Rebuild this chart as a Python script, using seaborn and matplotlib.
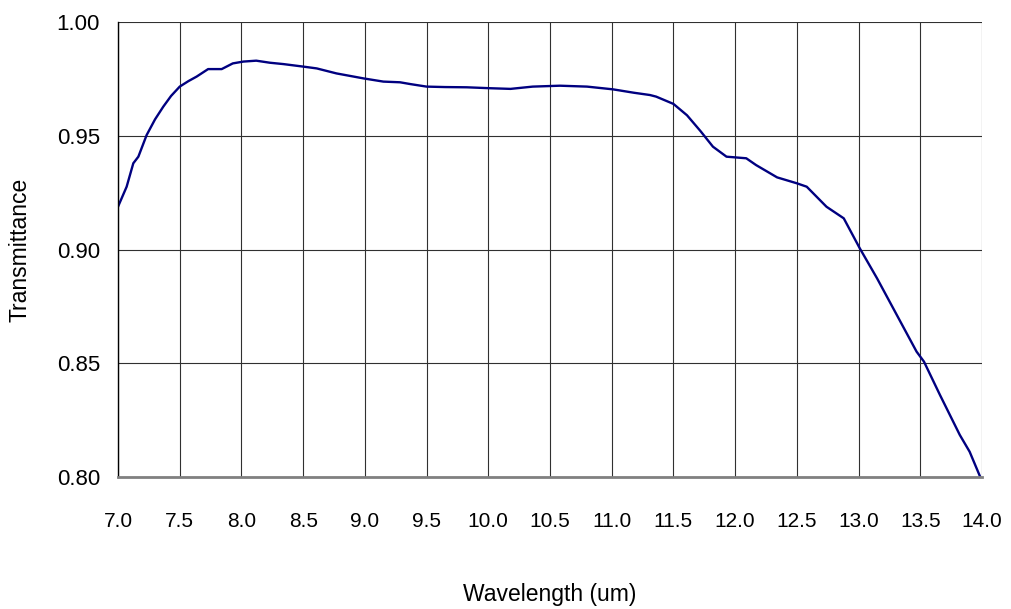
import matplotlib
matplotlib.use("Agg")
import matplotlib.pyplot as plt
import seaborn as sns
import pandas as pd
import numpy as np

wavelength = [7.00, 7.07, 7.124, 7.165, 7.232, 7.30, 7.367, 7.43, 7.50, 7.57, 7.637, 7.73, 7.84, 7.93,
              8.015, 8.12, 8.23, 8.34, 8.50, 8.61, 8.77, 8.99, 9.15, 9.285, 9.37, 9.50, 9.65, 9.825,
              10.01, 10.18, 10.36, 10.58, 10.80, 11.01, 11.18, 11.31, 11.36, 11.50, 11.61, 11.72,
              11.82, 11.93, 12.09, 12.17, 12.34, 12.50, 12.58, 12.74, 12.88, 13.01, 13.15, 13.31,
              13.47, 13.53, 13.66, 13.82, 13.90, 13.985]
transmittance = [0.9188, 0.9276, 0.9379, 0.9408, 0.9503, 0.9572, 0.9628, 0.9675, 0.9716, 0.9740, 0.9760,
                 0.9793, 0.9793, 0.9818, 0.9826, 0.9830, 0.9821, 0.9815, 0.9804, 0.9796, 0.9774, 0.9752,
                 0.9738, 0.9735, 0.9727, 0.9716, 0.9714, 0.9713, 0.9709, 0.9706, 0.9716, 0.9720, 0.9716,
                 0.9704, 0.9689, 0.9679, 0.9672, 0.9640, 0.9590, 0.9520, 0.9452, 0.9408, 0.9401, 0.9371,
                 0.9317, 0.9291, 0.9276, 0.9188, 0.9137, 0.9005, 0.8873, 0.8712, 0.8551, 0.8507, 0.8360,
                 0.8185, 0.8111, 0.8001]

x_ticks = [7.0, 7.5, 8.0, 8.5, 9.0, 9.5, 10.0, 10.5, 11.0, 11.5, 12.0, 12.5, 13.0, 13.5, 14.0]
y_ticks = [0.80, 0.85, 0.90, 0.95, 1.00]

df = pd.DataFrame({"Wavelength (um)": wavelength, "Transmittance": transmittance})

sns.set_style("white")
plt.rcParams["font.family"] = ["Liberation Sans", "DejaVu Sans"]
plt.rcParams["text.color"] = "black"
plt.rcParams["axes.labelcolor"] = "black"

fig = plt.figure(figsize=(10.11, 6.09), dpi=100)
ax = fig.add_axes([118 / 1011, 1 - 477 / 609, (982 - 118) / 1011, (477 - 22) / 609])

sns.lineplot(data=df, x="Wavelength (um)", y="Transmittance", ax=ax,
             color="#000080", linewidth=1.7)

ax.set_xlim(7.0, 14.0)
ax.set_ylim(0.80, 1.00)
ax.set_xticks(x_ticks)
ax.set_xticklabels([f"{t:.1f}" for t in x_ticks])
ax.set_yticks(y_ticks)
ax.set_yticklabels([f"{t:.2f}" for t in y_ticks])

ax.grid(True, color="#303030", linewidth=0.8)
ax.set_axisbelow(True)

for side in ["top", "right"]:
    ax.spines[side].set_visible(False)
ax.spines["left"].set_color("black")
ax.spines["left"].set_linewidth(1.0)
ax.spines["bottom"].set_color("#808080")
ax.spines["bottom"].set_linewidth(2.0)

ax.tick_params(axis="both", direction="out", length=7, width=1, color="black",
               labelcolor="black")
ax.tick_params(axis="x", pad=18, labelsize=15)
ax.tick_params(axis="y", pad=6, labelsize=16)

ax.set_xlabel("Wavelength (um)", fontsize=16.5, labelpad=38, color="black")
ax.set_ylabel("Transmittance", fontsize=16.5, labelpad=18, color="black")

fig.savefig("out.png", dpi=100, facecolor="white")
